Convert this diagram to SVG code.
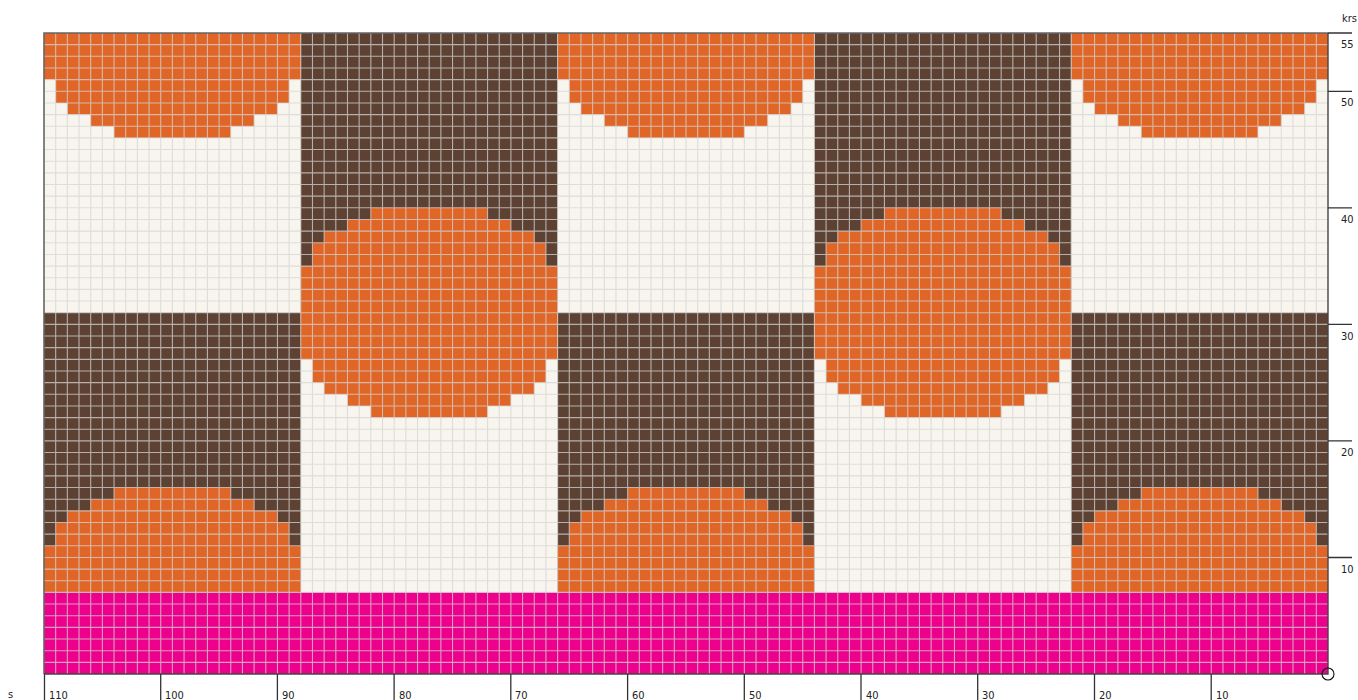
<svg xmlns="http://www.w3.org/2000/svg" xmlns:xlink="http://www.w3.org/1999/xlink" width="1358" height="700" viewBox="0 0 1358 700">
<style>
.or{fill:#DF6627}
.br{fill:#5D4233}
.cr{fill:#F7F5EE}
.pk{fill:#EC008C}
.grid{fill:none;stroke:#d4d4d4;stroke-opacity:0.75;stroke-width:1.1}
.tick{stroke:#333;stroke-width:1.3}
.lbl{font-family:"Liberation Sans Narrow","DejaVu Sans Condensed","Liberation Sans",sans-serif;font-size:11px;fill:#222}
</style>
<defs>
<path id="circle" d="M6,15H16V16H18V17H20V18H21V20H22V28H21V30H20V31H18V32H16V33H6V32H4V31H2V30H1V28H0V20H1V18H2V17H4V16H6Z"/>
<path id="topHalf" d="M0,0H22V4H21V6H20V7H18V8H16V9H6V8H4V7H2V6H1V4H0Z"/>
<path id="botHalf" d="M6,39H16V40H18V41H20V42H21V44H22V48H0V44H1V42H2V41H4V40H6Z"/>
</defs>
<rect width="1358" height="700" fill="#ffffff"/>
<g id="chart" transform="translate(44 33) scale(11.67273 11.65455)">
  <g id="fills">
    <rect class="cr" x="0" y="0" width="110" height="48"/>
    <rect class="pk" x="0" y="48" width="110" height="7"/>
    <rect class="br" x="0" y="24" width="22" height="24"/>
    <rect class="br" x="44" y="24" width="22" height="24"/>
    <rect class="br" x="88" y="24" width="22" height="24"/>
    <rect class="br" x="22" y="0" width="22" height="24"/>
    <rect class="br" x="66" y="0" width="22" height="24"/>
    <use href="#circle" xlink:href="#circle" class="or" x="22"/>
    <use href="#circle" xlink:href="#circle" class="or" x="66"/>
    <use href="#topHalf" xlink:href="#topHalf" class="or" x="0"/>
    <use href="#topHalf" xlink:href="#topHalf" class="or" x="44"/>
    <use href="#topHalf" xlink:href="#topHalf" class="or" x="88"/>
    <use href="#botHalf" xlink:href="#botHalf" class="or" x="0"/>
    <use href="#botHalf" xlink:href="#botHalf" class="or" x="44"/>
    <use href="#botHalf" xlink:href="#botHalf" class="or" x="88"/>
  </g>
  <path id="grid" class="grid" vector-effect="non-scaling-stroke" d="M1 0V55M2 0V55M3 0V55M4 0V55M5 0V55M6 0V55M7 0V55M8 0V55M9 0V55M10 0V55M11 0V55M12 0V55M13 0V55M14 0V55M15 0V55M16 0V55M17 0V55M18 0V55M19 0V55M20 0V55M21 0V55M22 0V55M23 0V55M24 0V55M25 0V55M26 0V55M27 0V55M28 0V55M29 0V55M30 0V55M31 0V55M32 0V55M33 0V55M34 0V55M35 0V55M36 0V55M37 0V55M38 0V55M39 0V55M40 0V55M41 0V55M42 0V55M43 0V55M44 0V55M45 0V55M46 0V55M47 0V55M48 0V55M49 0V55M50 0V55M51 0V55M52 0V55M53 0V55M54 0V55M55 0V55M56 0V55M57 0V55M58 0V55M59 0V55M60 0V55M61 0V55M62 0V55M63 0V55M64 0V55M65 0V55M66 0V55M67 0V55M68 0V55M69 0V55M70 0V55M71 0V55M72 0V55M73 0V55M74 0V55M75 0V55M76 0V55M77 0V55M78 0V55M79 0V55M80 0V55M81 0V55M82 0V55M83 0V55M84 0V55M85 0V55M86 0V55M87 0V55M88 0V55M89 0V55M90 0V55M91 0V55M92 0V55M93 0V55M94 0V55M95 0V55M96 0V55M97 0V55M98 0V55M99 0V55M100 0V55M101 0V55M102 0V55M103 0V55M104 0V55M105 0V55M106 0V55M107 0V55M108 0V55M109 0V55M0 1H110M0 2H110M0 3H110M0 4H110M0 5H110M0 6H110M0 7H110M0 8H110M0 9H110M0 10H110M0 11H110M0 12H110M0 13H110M0 14H110M0 15H110M0 16H110M0 17H110M0 18H110M0 19H110M0 20H110M0 21H110M0 22H110M0 23H110M0 24H110M0 25H110M0 26H110M0 27H110M0 28H110M0 29H110M0 30H110M0 31H110M0 32H110M0 33H110M0 34H110M0 35H110M0 36H110M0 37H110M0 38H110M0 39H110M0 40H110M0 41H110M0 42H110M0 43H110M0 44H110M0 45H110M0 46H110M0 47H110M0 48H110M0 49H110M0 50H110M0 51H110M0 52H110M0 53H110M0 54H110"/>
</g>
<g id="frame">
  <path d="M44 674V33H1328" fill="none" stroke="#666" stroke-width="1.6"/>
  <path d="M1328 33V674H44" fill="none" stroke="#444" stroke-width="1.4"/>
  <circle cx="1328" cy="674" r="6" fill="none" stroke="#111" stroke-width="1.1"/>
</g>
<g id="axis-bottom">
  <path class="tick" d="M44.5 674V700M160.7 674V700M277.4 674V700M394.1 674V700M510.8 674V700M627.6 674V700M744.3 674V700M861 674V700M977.7 674V700M1094.5 674V700M1211.2 674V700"/>
  <text class="lbl" x="8" y="698">s</text>
  <text class="lbl" x="49" y="699">110</text>
  <text class="lbl" x="165" y="699">100</text>
  <text class="lbl" x="282" y="699">90</text>
  <text class="lbl" x="399" y="699">80</text>
  <text class="lbl" x="515" y="699">70</text>
  <text class="lbl" x="632" y="699">60</text>
  <text class="lbl" x="749" y="699">50</text>
  <text class="lbl" x="866" y="699">40</text>
  <text class="lbl" x="982" y="699">30</text>
  <text class="lbl" x="1099" y="699">20</text>
  <text class="lbl" x="1216" y="699">10</text>
</g>
<g id="axis-right">
  <path class="tick" d="M1328 33H1352M1328 91.3H1352M1328 207.8H1352M1328 324.4H1352M1328 440.9H1352M1328 557.5H1352"/>
  <text class="lbl" x="1342" y="22">krs</text>
  <text class="lbl" x="1341" y="48">55</text>
  <text class="lbl" x="1341" y="106">50</text>
  <text class="lbl" x="1341" y="223">40</text>
  <text class="lbl" x="1341" y="340">30</text>
  <text class="lbl" x="1341" y="456">20</text>
  <text class="lbl" x="1341" y="573">10</text>
</g>
</svg>
